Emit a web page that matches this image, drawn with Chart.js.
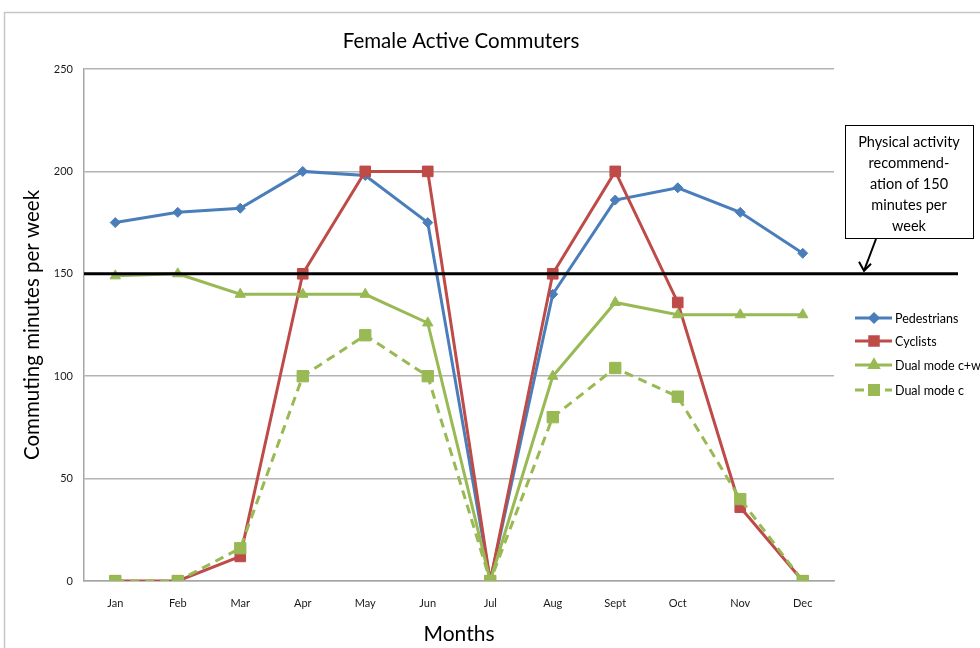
<!DOCTYPE html>
<html>
<head>
<meta charset="utf-8">
<script src="https://cdn.jsdelivr.net/npm/chart.js@4.4.1/dist/chart.umd.min.js"></script>
<style>
    html, body { margin: 0; padding: 0; background: #ffffff; }
    #wrap { width: 980px; height: 648px; position: relative; }
</style>
</head>
<body>
<div id="wrap"><canvas id="lineChart" width="980" height="648"></canvas></div>
<script>
// chart data
const months = ['Jan', 'Feb', 'Mar', 'Apr', 'May', 'Jun', 'Jul', 'Aug', 'Sept', 'Oct', 'Nov', 'Dec'];
const pedestrians = [175, 180, 182, 200, 198, 175, 0, 140, 186, 192, 180, 160];
const cyclists = [0, 0, 12, 150, 200, 200, 0, 150, 200, 136, 36, 0];
const dualModeCW = [149, 150, 140, 140, 140, 126, 0, 100, 136, 130, 130, 130];
const dualModeC = [0, 0, 16, 100, 120, 100, 0, 80, 104, 90, 40, 0];
const yTicks = [0, 50, 100, 150, 200, 250];
const recommendation = 150;
const noteLines = ['Physical activity', 'recommend-', 'ation of 150', 'minutes per', 'week'];

const FONT = 'Lato, "Open Sans", sans-serif';

// frame, title, 150 line, note box and legend are drawn by hand
const extrasPlugin = {
    id: 'extras',
    beforeDraw: (chart) => {
        const ctx = chart.ctx;
        ctx.save();
        ctx.strokeStyle = '#c6c6c6';
        ctx.lineWidth = 1.5;
        ctx.beginPath();
        ctx.moveTo(4.5, 700);
        ctx.lineTo(4.5, 12.5);
        ctx.lineTo(1000, 12.5);
        ctx.stroke();
        ctx.restore();
    },
    afterDatasetsDraw: (chart) => {
        const ctx = chart.ctx;
        const area = chart.chartArea;
        const y = chart.scales.y.getPixelForValue(recommendation);
        ctx.save();
        ctx.strokeStyle = '#000000';
        ctx.lineWidth = 3;
        ctx.beginPath();
        ctx.moveTo(area.left, y);
        ctx.lineTo(958, y);
        ctx.stroke();
        ctx.restore();
    },
    afterDraw: (chart) => {
        const ctx = chart.ctx;
        const area = chart.chartArea;
        ctx.save();

        // title
        ctx.fillStyle = '#000000';
        ctx.font = '20.5px ' + FONT;
        ctx.textAlign = 'center';
        ctx.textBaseline = 'middle';
        ctx.fillText('Female Active Commuters', (area.left + area.right) / 2 + 2, 41);

        // note box
        ctx.fillStyle = '#ffffff';
        ctx.fillRect(845.5, 125.5, 128, 113);
        ctx.strokeStyle = '#000000';
        ctx.lineWidth = 1;
        ctx.strokeRect(845.5, 125.5, 128, 113);
        ctx.fillStyle = '#000000';
        ctx.font = '14.5px ' + FONT;
        noteLines.forEach((line, i) => {
            ctx.fillText(line, 909, 142 + i * 21);
        });

        // arrow to the 150 line
        const yRec = chart.scales.y.getPixelForValue(recommendation);
        ctx.lineWidth = 2;
        ctx.beginPath();
        ctx.moveTo(876, 239);
        ctx.lineTo(864, yRec - 3);
        ctx.stroke();
        ctx.beginPath();
        ctx.moveTo(859, yRec - 12);
        ctx.lineTo(864, yRec - 3);
        ctx.lineTo(871, yRec - 10);
        ctx.stroke();

        // legend
        ctx.textAlign = 'left';
        ctx.font = '12.5px ' + FONT;
        const rows = [318, 341, 365, 390];
        chart.data.datasets.forEach((ds, i) => {
            const ly = rows[i];
            ctx.strokeStyle = ds.borderColor;
            ctx.lineWidth = 3;
            ctx.setLineDash(ds.borderDash || []);
            ctx.beginPath();
            ctx.moveTo(855, ly);
            ctx.lineTo(892, ly);
            ctx.stroke();
            ctx.setLineDash([]);
            ctx.fillStyle = ds.pointBackgroundColor;
            ctx.strokeStyle = ds.pointBorderColor;
            Chart.helpers.drawPoint(ctx, {
                pointStyle: ds.pointStyle,
                radius: ds.pointRadius * 0.8,
                rotation: 0,
                borderWidth: 1
            }, 874, ly);
            ctx.fillStyle = '#000000';
            ctx.fillText(ds.label, 895, ly + 1);
        });
        ctx.restore();
    }
};

const makeSet = (label, data, color, style, radius, order, dash) => ({
    label: label,
    data: data,
    borderColor: color,
    backgroundColor: color,
    pointBackgroundColor: color,
    pointBorderColor: color,
    pointBorderWidth: 1,
    pointStyle: style,
    pointRadius: radius,
    borderWidth: 3,
    borderDash: dash,
    tension: 0,
    order: order,
});

const renderLineChart = () => {
    const ctx = document.getElementById('lineChart').getContext('2d');

    new Chart(ctx, {
        type: 'line',
        data: {
            labels: months,
            datasets: [
                makeSet('Pedestrians', pedestrians, '#4a7ebb', 'rectRot', 5, 3, []),
                makeSet('Cyclists', cyclists, '#be4b48', 'rect', 7.5, 2, []),
                makeSet('Dual mode c+w', dualModeCW, '#98b954', 'triangle', 6, 1, []),
                makeSet('Dual mode c', dualModeC, '#98b954', 'rect', 8, 0, [9, 6]),
            ],
        },
        options: {
            responsive: false,
            animation: false,
            layout: {
                padding: { top: 69, right: 146, bottom: 0, left: 0 },
            },
            plugins: {
                legend: { display: false },
                title: { display: false },
                tooltip: { enabled: false },
            },
            scales: {
                x: {
                    offset: true,
                    border: { color: '#a6a6a6', width: 1.5 },
                    grid: { drawOnChartArea: false, drawTicks: false },
                    ticks: {
                        color: '#1a1a1a',
                        padding: 16,
                        font: { size: 11, family: FONT },
                    },
                    title: {
                        display: true,
                        text: 'Months',
                        color: '#000000',
                        font: { size: 21, family: FONT },
                        padding: { top: 0, bottom: 1 },
                    },
                    afterFit: (scale) => { scale.height = 67; },
                },
                y: {
                    min: 0,
                    max: 250,
                    afterBuildTicks: (scale) => {
                        scale.ticks = yTicks.map((v) => ({ value: v }));
                    },
                    border: { color: '#a6a6a6', width: 1.5 },
                    grid: { color: '#b3b3b3', lineWidth: 1.5, drawTicks: false },
                    ticks: {
                        color: '#1a1a1a',
                        padding: 11,
                        font: { size: 11, family: FONT },
                    },
                    title: {
                        display: true,
                        text: 'Commuting minutes per week',
                        color: '#000000',
                        font: { size: 20.5, family: FONT },
                        padding: { top: 20, bottom: 0 },
                    },
                    afterFit: (scale) => { scale.width = 84; },
                },
            },
        },
        plugins: [extrasPlugin],
    });
};

renderLineChart();
</script>
</body>
</html>
